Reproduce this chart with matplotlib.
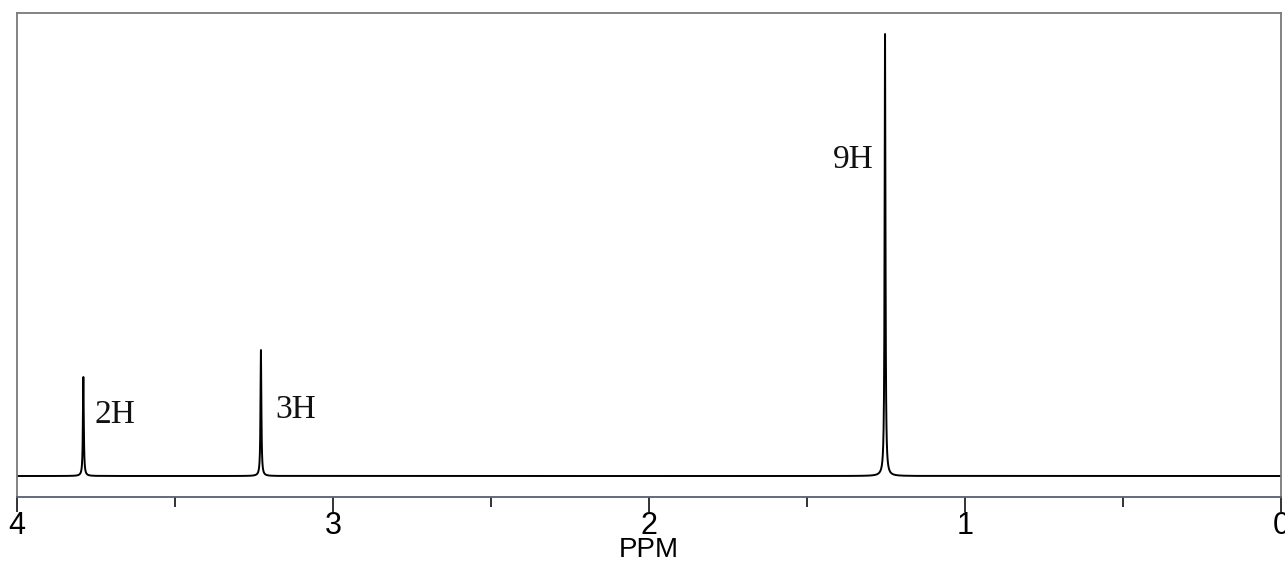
import numpy as np
import matplotlib
matplotlib.use('Agg')
import matplotlib.pyplot as plt
from matplotlib.ticker import MultipleLocator

# peak positions (ppm), heights (relative), labels
peak_ppm = [3.79, 3.228, 1.253]
peak_height = [22.4, 28.5, 100.0]
peak_label = ['2H', '3H', '9H']
label_ppm = [3.69, 3.117, 1.354]
label_y = [13.8, 14.9, 71.5]

major_ticks = [4, 3, 2, 1, 0]
tick_labels = ['4', '3', '2', '1', '0']

# line shape width (ppm, half width at half max)
gamma = 0.0016

fig = plt.figure(figsize=(12.85, 5.62), dpi=100)
ax = fig.add_axes([0.01323, 0.11566, 0.98366, 0.86121])

ppm = np.linspace(-0.05, 4.05, 60000)
spectrum = np.zeros_like(ppm)
for p, h in zip(peak_ppm, peak_height):
    spectrum += h * gamma**2 / ((ppm - p)**2 + gamma**2)

ax.plot(ppm, spectrum, color='black', lw=1.4)

for x, y, t in zip(label_ppm, label_y, peak_label):
    ax.text(x, y, t, fontsize=24, family='Liberation Serif', ha='center', va='center',
            color='#111111')

ax.set_xlim(4, 0)
ax.set_ylim(-4.75, 104.75)

ax.xaxis.set_minor_locator(MultipleLocator(0.5))
ax.set_xticks(major_ticks)
ax.set_xticklabels(tick_labels, family='Liberation Sans', fontsize=22)
ax.tick_params(axis='x', which='major', direction='out', length=11, width=1.3, pad=-1, color='#222222')
ax.tick_params(axis='x', which='minor', direction='out', length=7, width=1.3, color='#222222')
ax.set_yticks([])
ax.set_xlabel('PPM', family='Liberation Sans', fontsize=20, labelpad=-3)

for side in ['top', 'left', 'right']:
    ax.spines[side].set_color('#7a7a7a')
    ax.spines[side].set_linewidth(1.3)
ax.spines['bottom'].set_color('#556070')
ax.spines['bottom'].set_linewidth(1.3)

fig.savefig('out.png', dpi=100)
